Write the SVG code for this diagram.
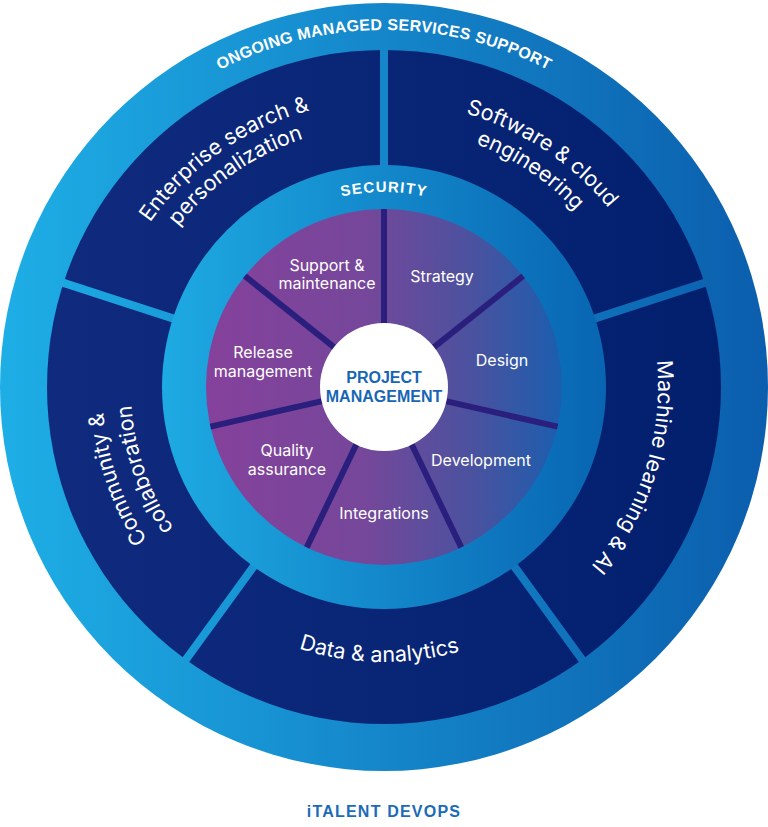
<svg xmlns="http://www.w3.org/2000/svg" width="768" height="827" viewBox="0 0 768 827">
<defs>
  <linearGradient id="gRing" gradientUnits="userSpaceOnUse" x1="0" y1="0" x2="768" y2="0">
    <stop offset="0" stop-color="#1eaee6"/>
    <stop offset="1" stop-color="#0b5ead"/>
  </linearGradient>
  <linearGradient id="gDark" x1="0" y1="0" x2="1" y2="0">
    <stop offset="0" stop-color="#102b7e"/>
    <stop offset="1" stop-color="#021f6e"/>
  </linearGradient>
  <linearGradient id="gSec" x1="0" y1="0" x2="1" y2="0">
    <stop offset="0" stop-color="#1eaae2"/>
    <stop offset="1" stop-color="#0865b2"/>
  </linearGradient>
  <linearGradient id="gPie" x1="0" y1="0" x2="1" y2="0">
    <stop offset="0" stop-color="#85419b"/>
    <stop offset="0.45" stop-color="#75479a"/>
    <stop offset="0.75" stop-color="#4a529f"/>
    <stop offset="1" stop-color="#1b5eae"/>
  </linearGradient>
  <path id="pTop" d="M74.83,208.5 A357,357 0 0 1 693.17,208.5"/>
  <path id="pSec" d="M215.12,289.5 A195,195 0 0 1 552.88,289.5"/>
  <path id="pEnt1" d="M99.10,362.07 A287,287 0 0 1 458.28,109.78"/>
  <path id="pEnt2" d="M124.00,364.25 A261,261 0 0 1 451.55,134.89"/>
  <path id="pSof1" d="M304.34,113.04 A289,289 0 0 1 671.42,356.79"/>
  <path id="pSof2" d="M312.58,137.08 A260,260 0 0 1 642.58,359.82"/>
  <path id="pMac" d="M615.60,240.59 A274,274 0 0 1 487.97,640.51"/>
  <path id="pDat" d="M170.28,560.06 A275,275 0 0 0 591.55,567.42"/>
  <path id="pCom1" d="M283.30,650.33 A282,282 0 0 1 142.28,241.76"/>
  <path id="pCom2" d="M293.16,623.65 A253,253 0 0 1 167.13,256.69"/>
</defs>
<style>
  .lbl{font-family:Inter,"Liberation Sans",sans-serif;font-size:16px;fill:#ffffff;text-anchor:middle}
  .big{font-family:Inter,"Liberation Sans",sans-serif;font-size:21.5px;fill:#ffffff}
  .cap{font-family:"Liberation Sans",Arial,sans-serif;font-weight:bold}
  .divo{stroke:url(#gRing);stroke-width:8}
  .divi{stroke:#2a1f7d;stroke-width:6}
</style>

<g id="ring-ongoing-support">
  <circle cx="384" cy="387" r="384" fill="url(#gRing)"/>
  <text class="cap" font-size="16" letter-spacing="0.3" fill="#ffffff"><textPath href="#pTop" startOffset="50%" text-anchor="middle">ONGOING MANAGED SERVICES SUPPORT</textPath></text>
</g>

<g id="ring-services">
  <circle cx="384" cy="387" r="337" fill="url(#gDark)"/>
</g>

<g id="connectors">
  <g id="outer-dividers" class="divo">
    <line x1="384" y1="169" x2="384" y2="46"/>
    <line x1="591.33" y1="319.63" x2="708.31" y2="281.62"/>
    <line x1="512.14" y1="563.37" x2="584.44" y2="662.88"/>
    <line x1="255.86" y1="563.37" x2="183.56" y2="662.88"/>
    <line x1="176.67" y1="319.63" x2="59.69" y2="281.62"/>
  </g>
</g>

<g id="node-enterprise">
  <text class="big"><textPath href="#pEnt1" startOffset="50%" text-anchor="middle">Enterprise search &amp;</textPath></text>
  <text class="big"><textPath href="#pEnt2" startOffset="50%" text-anchor="middle">personalization</textPath></text>
</g>
<g id="node-software">
  <text class="big"><textPath href="#pSof1" startOffset="50%" text-anchor="middle">Software &amp; cloud</textPath></text>
  <text class="big"><textPath href="#pSof2" startOffset="50%" text-anchor="middle">engineering</textPath></text>
</g>
<g id="node-machine-learning">
  <text class="big"><textPath href="#pMac" startOffset="50%" text-anchor="middle">Machine learning &amp; AI</textPath></text>
</g>
<g id="node-data">
  <text class="big"><textPath href="#pDat" startOffset="50%" text-anchor="middle">Data &amp; analytics</textPath></text>
</g>
<g id="node-community">
  <text class="big"><textPath href="#pCom1" startOffset="50%" text-anchor="middle">Community &amp;</textPath></text>
  <text class="big"><textPath href="#pCom2" startOffset="50%" text-anchor="middle">collaboration</textPath></text>
</g>

<g id="ring-security">
  <circle cx="384" cy="387" r="222" fill="url(#gSec)"/>
  <text class="cap" font-size="15" letter-spacing="1.2" fill="#ffffff"><textPath href="#pSec" startOffset="50%" text-anchor="middle">SECURITY</textPath></text>
</g>

<g id="pie">
  <circle cx="384" cy="387" r="178" fill="url(#gPie)"/>
  <g id="pie-dividers" class="divi">
    <line x1="384" y1="327" x2="384" y2="209"/>
    <line x1="430.91" y1="349.59" x2="523.17" y2="276.02"/>
    <line x1="442.50" y1="400.35" x2="557.54" y2="426.61"/>
    <line x1="410.03" y1="441.06" x2="461.23" y2="547.37"/>
    <line x1="357.97" y1="441.06" x2="306.77" y2="547.37"/>
    <line x1="325.50" y1="400.35" x2="210.46" y2="426.61"/>
    <line x1="337.09" y1="349.59" x2="244.83" y2="276.02"/>
  </g>
</g>

<g id="node-support"><text class="lbl" x="327" y="271">Support &amp;</text><text class="lbl" x="327" y="289">maintenance</text></g>
<g id="node-strategy"><text class="lbl" x="442" y="282">Strategy</text></g>
<g id="node-design"><text class="lbl" x="502" y="366">Design</text></g>
<g id="node-development"><text class="lbl" x="481" y="466">Development</text></g>
<g id="node-integrations"><text class="lbl" x="384" y="519">Integrations</text></g>
<g id="node-quality"><text class="lbl" x="287" y="456">Quality</text><text class="lbl" x="287" y="475">assurance</text></g>
<g id="node-release"><text class="lbl" x="263" y="358">Release</text><text class="lbl" x="263" y="377">management</text></g>

<g id="node-project-management">
  <circle cx="384" cy="387" r="64" fill="#ffffff"/>
  <text class="cap" font-size="16" fill="#1766b5" text-anchor="middle" x="384" y="383">PROJECT</text>
  <text class="cap" font-size="16" fill="#1766b5" text-anchor="middle" x="384" y="402">MANAGEMENT</text>
</g>

<g id="title">
  <text class="cap" font-size="16" letter-spacing="1.2" fill="#1a6bb8" text-anchor="middle" x="384" y="817">iTALENT DEVOPS</text>
</g>
</svg>
